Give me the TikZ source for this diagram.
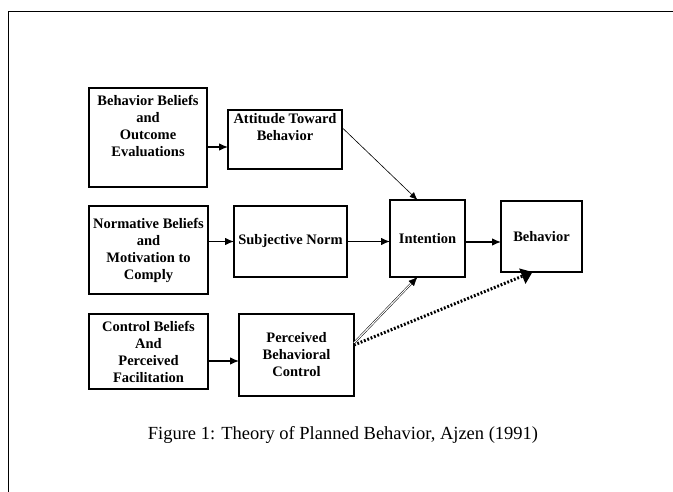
\documentclass[tikz,border=0pt]{standalone}
\usepackage{fontspec}
\setmainfont{Liberation Serif}
\usetikzlibrary{positioning,arrows.meta}
\tikzset{>=latex}
\tikzset{
  box/.style={draw=black,line width=1.4pt,fill=white,inner sep=2pt,outer sep=0pt,
    align=center,font=\bfseries\fontsize{14.5}{17}\selectfont},
  link/.style={draw,-{Latex[length=9pt,width=7.5pt]},line width=1.1pt},
  thinlink/.style={draw,-{Latex[length=8pt,width=6.5pt]},line width=0.6pt},
  twinlink/.style={draw,-{Latex[length=9pt,width=7.5pt]},line width=0.5pt,double,double distance=1.1pt},
  dotlink/.style={draw,line width=3pt,dash pattern=on 1.8pt off 1.8pt,
    -{Triangle[width=16pt,length=11pt,sep=0pt]}},
  frame/.style={draw,line width=1.5pt}
}

\begin{document}
\begin{tikzpicture}[x=1pt,y=-1pt]
    \useasboundingbox (0,0) rectangle (673,492);

    % outer frame (cut off at right and bottom)
    \coordinate (fr-tr) at (673,11.5);
    \coordinate (fr-tl) at (8.5,11.5);
    \coordinate (fr-bl) at (8.5,492);
    \draw [frame] (fr-tr) -- (fr-tl) -- (fr-bl);

    % beliefs column
    \node [box,minimum width=118,minimum height=99,text depth=24pt] (bb) at (148,137.5) {Behavior Beliefs\\and\\Outcome\\Evaluations};
    \node [box,minimum width=119,minimum height=88] (nb) at (148.5,250) {Normative Beliefs\\and\\Motivation to\\Comply};
    \node [box,minimum width=119,minimum height=75] (cb) at (148.5,351.5) {Control Beliefs\\And\\Perceived\\Facilitation};

    % determinants
    \node [box,minimum width=114,minimum height=59,text depth=26pt] (att) at (285,139.5) {Attitude Toward\\Behavior};
    \node [box,minimum width=113,minimum height=71] (sn) at (290.5,241.5) {Subjective Norm};
    \node [box,minimum width=115,minimum height=82] (pbc) at (296.5,355) {Perceived\\Behavioral\\Control};

    % intention and behavior
    \node [box,minimum width=75,minimum height=77] (int) at (427.5,238.5) {Intention};
    \node [box,minimum width=81,minimum height=71] (beh) at (541.5,236.5) {Behavior};

    \path [link] ([yshift=-9.5pt]bb.east) -- ([yshift=-9.5pt]bb.east -| att.west);
    \path [link] (sn.west -| nb.east) -- (sn.west);
    \path [link] ([yshift=-6pt]pbc.west -| cb.east) -- ([yshift=-6pt]pbc.west);
    \path [link] (sn.east) -- (sn.east -| int.west);
    \path [link] ([yshift=-3.5pt]int.east) -- ([yshift=-3.5pt]int.east -| beh.west);

    \path [thinlink] ([yshift=12pt]att.east) -- ([xshift=-10pt]int.north);
    \path [twinlink] ([yshift=12pt]pbc.east) -- ([xshift=-10pt]int.south);
    \path [dotlink] ([yshift=10pt]pbc.east) -- ([xshift=-9pt]beh.south);

    \node [font=\fontsize{18.5}{21}\selectfont] (cap) at (343,435) {Figure 1: Theory of Planned Behavior, Ajzen (1991)};
\end{tikzpicture}
\end{document}
